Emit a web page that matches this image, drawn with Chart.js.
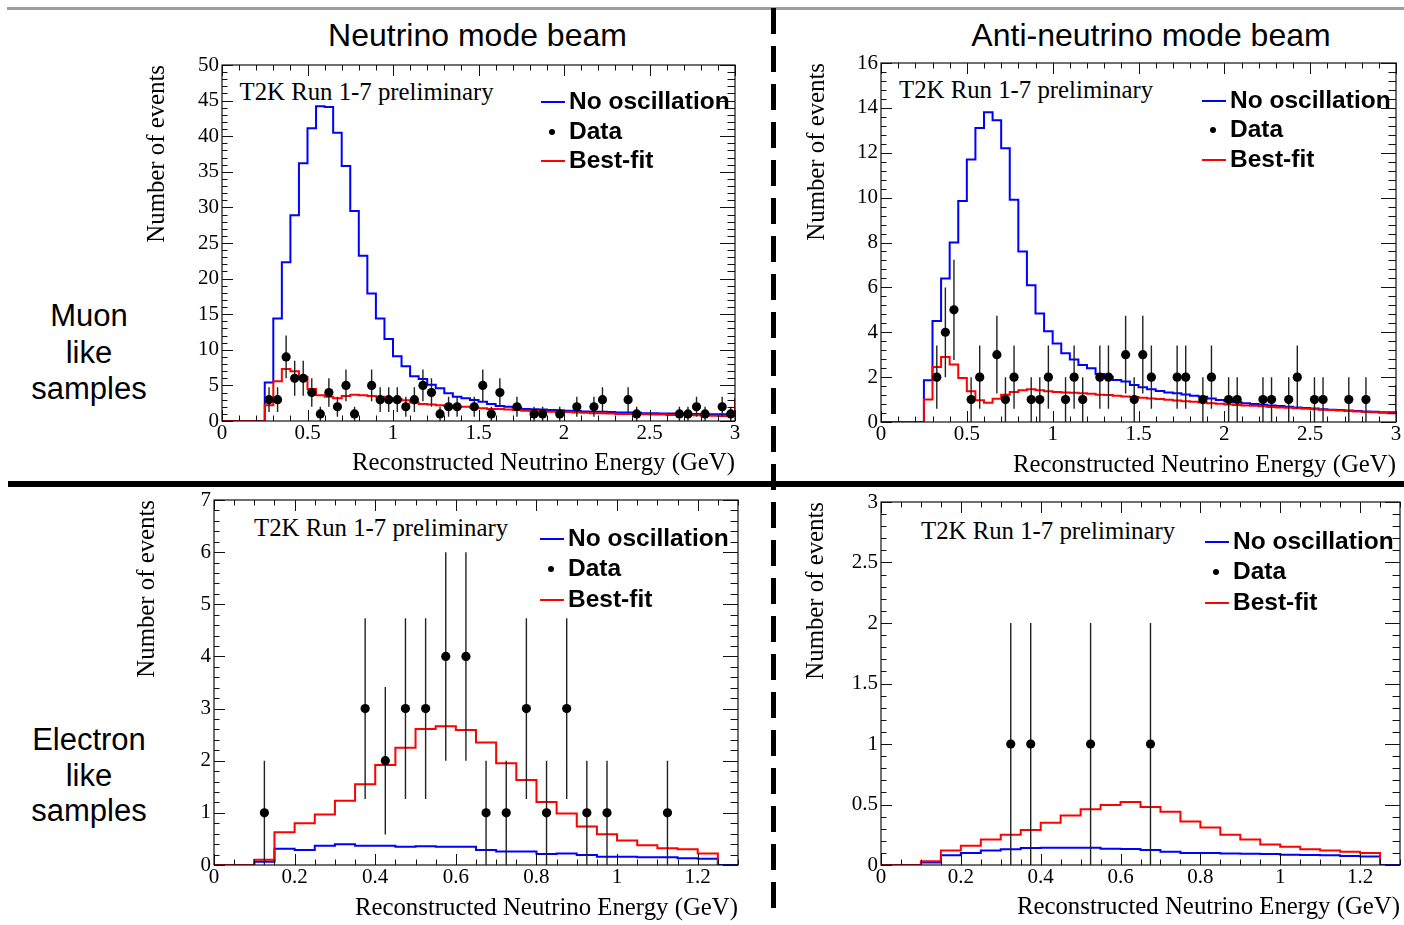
<!DOCTYPE html>
<html><head><meta charset="utf-8">
<script src="https://cdn.jsdelivr.net/npm/chart.js@4.4.0/dist/chart.umd.min.js"></script>
<style>
html,body{margin:0;padding:0;background:#fff;width:1404px;height:925px;overflow:hidden;position:relative;}
canvas{position:absolute;}
.t{position:absolute;white-space:nowrap;line-height:1;transform:translateY(-50%);color:#000;}
.sans{font-family:"Liberation Sans",Arial,sans-serif;}
.serif{font-family:"Liberation Serif","Times New Roman",serif;}
.ptitle{font-size:32px;transform:translate(-50%,-50%);}
.side{position:absolute;left:0;width:178px;text-align:center;font-size:31px;color:#000;}
.run{font-size:24.8px;}
.leg{font-size:24.5px;font-weight:bold;}
.key{position:absolute;}
</style></head><body>
<div style="position:absolute;left:7px;top:7px;width:1397px;height:2.5px;background:#9c9c9c;"></div>
<div style="position:absolute;left:8px;top:481px;width:1396px;height:6px;background:#000;"></div>
<div style="position:absolute;left:771px;top:8px;width:5px;height:908px;background:repeating-linear-gradient(to bottom,#000 0px,#000 26px,transparent 26px,transparent 38px);"></div>

<div class="t sans ptitle" style="left:477.5px;top:35px;">Neutrino mode beam</div>
<div class="t sans ptitle" style="left:1151px;top:35px;">Anti-neutrino mode beam</div>
<div class="side sans" style="top:298px;line-height:36.5px;">Muon<br>like<br>samples</div>
<div class="side sans" style="top:722px;line-height:35.5px;">Electron<br>like<br>samples</div>

<div class="t serif run" style="left:239.5px;top:92px;">T2K Run 1-7 preliminary</div>
<div class="t serif run" style="left:899px;top:90px;">T2K Run 1-7 preliminary</div>
<div class="t serif run" style="left:254px;top:528px;">T2K Run 1-7 preliminary</div>
<div class="t serif run" style="left:921px;top:531px;">T2K Run 1-7 preliminary</div>

<script>
// ---------------- DATA ----------------
const muEdges = [0,0.05,0.1,0.15,0.2,0.25,0.3,0.35,0.4,0.45,0.5,0.55,0.6,0.65,0.7,0.75,0.8,0.85,0.9,0.95,1,1.05,1.1,1.15,1.2,1.25,1.3,1.35,1.4,1.45,1.5,1.55,1.6,1.65,1.7,1.75,1.8,1.85,1.9,1.95,2,2.05,2.1,2.15,2.2,2.25,2.3,2.35,2.4,2.45,2.5,2.55,2.6,2.65,2.7,2.75,2.8,2.85,2.9,2.95,3];
const eEdges = [0,0.05,0.1,0.15,0.2,0.25,0.3,0.35,0.4,0.45,0.5,0.55,0.6,0.65,0.7,0.75,0.8,0.85,0.9,0.95,1,1.05,1.1,1.15,1.2,1.25,1.3];

// Neutrino mode, muon-like
const numuNoOsc = [0,0,0,0,0, 5.4,14.4,22.3,28.9,36.2, 41.1,44.2,44.1,40.5,35.8, 29.5,23.2,17.9,14.4,11.5, 9.1,7.7,6.3,5.9,5.1, 4.6,3.9,3.4,3.2,2.95, 2.7,2.4,2.1,2.0,1.9, 1.7,1.65,1.6,1.55,1.5, 1.45,1.4,1.35,1.3,1.3, 1.25,1.2,1.2,1.15,1.1, 1.1,1.05,1.05,1.0,1.0, 1.0,0.95,0.95,0.95,0.9];
const numuBestFit = [0,0,0,0,0, 2.2,5.6,7.3,7.0,6.2, 4.5,3.6,3.4,3.2,3.5, 3.7,3.6,3.5,3.4,3.2, 3.1,2.9,2.6,2.4,2.3, 2.2,2.1,2.0,2.0,1.9, 1.8,1.7,1.7,1.6,1.55, 1.45,1.4,1.35,1.3,1.3, 1.25,1.2,1.15,1.1,1.1, 1.05,1.0,1.0,0.95,0.95, 0.9,0.9,0.85,0.85,0.8, 0.8,0.75,0.75,0.7,0.7];
const numuBestFitOverflow = 3.2;
const numuDataE = [0.275,0.325,0.375,0.425,0.475,0.525,0.575,0.625,0.675,0.725,0.775,0.875,0.925,0.975,1.025,1.075,1.125,1.175,1.225,1.275,1.325,1.375,1.475,1.525,1.575,1.625,1.725,1.825,1.875,1.975,2.075,2.175,2.225,2.375,2.425,2.675,2.725,2.775,2.825,2.925,2.975];
const numuDataN = [3,3,9,6,6,4,1,4,2,5,1,5,3,3,3,2,3,5,4,1,2,2,2,5,1,4,2,1,1,1,2,2,3,3,1,1,1,2,1,2,1];

// Anti-neutrino mode, muon-like
const numubarNoOsc = [0,0,0,0,0, 1.86,4.5,6.4,8.0,9.85, 11.7,13.1,13.8,13.45,12.2, 9.9,7.6,6.1,4.84,4.05, 3.5,3.06,2.79,2.54,2.39, 2.14,2.02,1.87,1.8,1.65, 1.55,1.46,1.38,1.31,1.28, 1.23,1.17,1.13,1.05,0.98, 0.93,0.88,0.84,0.8,0.77, 0.74,0.71,0.68,0.65,0.62, 0.6,0.57,0.55,0.53,0.51, 0.49,0.47,0.46,0.44,0.43];
const numubarBestFit = [0,0,0,0,0, 1.0,2.45,2.9,2.56,1.96, 1.37,0.97,0.86,1.04,1.22, 1.34,1.41,1.46,1.41,1.37, 1.34,1.32,1.30,1.28,1.26, 1.22,1.2,1.17,1.14,1.11, 1.08,1.05,1.02,0.99,0.96, 0.93,0.9,0.87,0.84,0.81, 0.78,0.76,0.74,0.72,0.70, 0.67,0.65,0.63,0.61,0.59, 0.57,0.55,0.53,0.51,0.49, 0.47,0.45,0.43,0.41,0.39];
const numubarBestFitOverflow = 1.65;
const numubarDataE = [0.325,0.375,0.425,0.525,0.575,0.675,0.725,0.775,0.875,0.925,0.975,1.075,1.125,1.175,1.275,1.325,1.425,1.475,1.525,1.575,1.725,1.775,1.875,1.925,2.025,2.075,2.225,2.275,2.375,2.425,2.525,2.575,2.725,2.825];
const numubarDataN = [2,4,5,1,2,3,1,2,1,1,2,1,2,1,2,2,3,1,3,2,2,2,1,2,1,1,1,1,1,2,1,1,1,1];

// Neutrino mode, electron-like
const nueNoOsc = [0,0,0.06,0.31,0.29, 0.37,0.40,0.37,0.37,0.35, 0.36,0.35,0.35,0.29,0.26, 0.26,0.21,0.22,0.19,0.16, 0.16,0.15,0.15,0.13,0.12, 0];
const nueBestFit = [0,0,0.1,0.63,0.8, 0.97,1.23,1.55,1.92,2.25, 2.61,2.66,2.59,2.35,1.95, 1.63,1.21,0.99,0.74,0.59, 0.47,0.38,0.32,0.30,0.22];
const nueDataE = [0.125,0.375,0.425,0.475,0.525,0.575,0.625,0.675,0.725,0.775,0.825,0.875,0.925,0.975,1.125];
const nueDataN = [1,3,2,3,3,4,4,1,1,3,1,3,1,1,1];

// Anti-neutrino mode, electron-like
const nuebarNoOsc = [0,0,0.02,0.08,0.10, 0.12,0.13,0.14,0.143,0.143, 0.143,0.135,0.133,0.125,0.11, 0.10,0.10,0.095,0.093,0.09, 0.085,0.083,0.08,0.075,0.07, 0];
const nuebarBestFit = [0,0,0.03,0.12,0.16, 0.21,0.25,0.29,0.35,0.41, 0.46,0.495,0.52,0.48,0.44, 0.36,0.31,0.25,0.21,0.17, 0.15,0.13,0.12,0.11,0.10];
const nuebarDataE = [0.325,0.375,0.525,0.675];
const nuebarDataN = [1,1,1,1];

// Tick labels
const muXTicks = [0,0.5,1,1.5,2,2.5,3];
const eXTicks = [0,0.2,0.4,0.6,0.8,1,1.2];
const numuYTicks = [0,5,10,15,20,25,30,35,40,45,50];
const numubarYTicks = [0,2,4,6,8,10,12,14,16];
const nueYTicks = [0,1,2,3,4,5,6,7];
const nuebarYTicks = [0,0.5,1,1.5,2,2.5,3];

const legendLabels = ['No oscillation','Data','Best-fit'];
const xTitle = 'Reconstructed Neutrino Energy (GeV)';
const yTitle = 'Number of events';

// ---------------- DRAWING ----------------
const SERIF = '"Liberation Serif","Times New Roman",serif';
const BLUE = '#0000ff', RED = '#ff0000';

function stepPoints(edges, values, endValue) {
  const pts = [];
  for (let i = 0; i < values.length; i++) {
    pts.push({x: edges[i], y: values[i]});
    pts.push({x: edges[i + 1], y: values[i]});
  }
  if (endValue !== undefined) pts.push({x: edges[values.length], y: endValue});
  return pts;
}
function fmt(v) { return String(Number(Number(v).toFixed(3))); }

const rootFrame = {
  id: 'rootFrame',
  afterDatasetsDraw(chart, args, opts) {
    const {ctx, chartArea: a, scales: {x, y}} = chart;
    ctx.save();
    ctx.strokeStyle = '#111';
    ctx.lineWidth = 1;
    ctx.beginPath();
    const isMajor = (list, v) => list.some(t => Math.abs(t - v) < 1e-6);
    const nx = Math.round(x.max / opts.xMinor);
    for (let i = 0; i <= nx; i++) {
      const v = i * opts.xMinor;
      const px = Math.round(x.getPixelForValue(v)) + 0.5;
      const len = isMajor(opts.xMajor, v) ? 11 : 5.5;
      ctx.moveTo(px, a.bottom); ctx.lineTo(px, a.bottom - len);
      ctx.moveTo(px, a.top); ctx.lineTo(px, a.top + len);
    }
    const ny = Math.round(y.max / opts.yMinor);
    for (let i = 0; i <= ny; i++) {
      const v = i * opts.yMinor;
      const py = Math.round(y.getPixelForValue(v)) + 0.5;
      const maj = isMajor(opts.yMajor, v);
      ctx.moveTo(a.left, py); ctx.lineTo(a.left + (maj ? 11 : 5.5), py);
      ctx.moveTo(a.right, py); ctx.lineTo(a.right - (maj ? 15 : 7.5), py);
    }
    ctx.stroke();
    ctx.lineWidth = 1.2;
    ctx.strokeRect(a.left, a.top, a.right - a.left, a.bottom - a.top);
    ctx.restore();
  }
};

const errorBars = {
  id: 'errorBars',
  beforeDatasetDraw(chart, args) {
    if (args.index !== 0) return;
    const {ctx, chartArea: a, scales: {x, y}} = chart;
    ctx.save();
    ctx.beginPath();
    ctx.rect(a.left, a.top, a.right - a.left, a.bottom - a.top);
    ctx.clip();
    ctx.strokeStyle = '#222';
    ctx.lineWidth = 1.4;
    ctx.beginPath();
    chart.data.datasets[0].data.forEach(p => {
      const e = Math.sqrt(p.y);
      const px = x.getPixelForValue(p.x);
      ctx.moveTo(px, y.getPixelForValue(p.y - e));
      ctx.lineTo(px, y.getPixelForValue(p.y + e));
    });
    ctx.stroke();
    ctx.restore();
  }
};

function makePanel(c) {
  const TICK = 21, TITLE = 24.8;
  const titleLH = TITLE * 1.2;
  const padTop = 22, padRight = 14;
  const canvasLeft = Math.round(c.yTitleCX - titleLH / 2);
  const yAxisW = c.L - canvasLeft;
  const xAxisH = Math.round(c.xTitleCY - c.B + titleLH / 2);
  const W = yAxisW + (c.R - c.L) + padRight;
  const H = padTop + (c.B - c.T) + xAxisH;
  const cv = document.createElement('canvas');
  cv.width = W; cv.height = H;
  cv.style.left = canvasLeft + 'px';
  cv.style.top = (c.T - padTop) + 'px';
  cv.style.width = W + 'px'; cv.style.height = H + 'px';
  document.body.appendChild(cv);

  const dataPts = c.dataE.map((e, i) => ({x: e, y: c.dataN[i]}));
  new Chart(cv.getContext('2d'), {
    type: 'line',
    data: {
      datasets: [
        {type: 'scatter', label: legendLabels[1], data: dataPts, pointRadius: 4.6, pointHoverRadius: 4.6,
         pointBackgroundColor: '#000', pointBorderWidth: 0, showLine: false},
        {label: legendLabels[2], data: stepPoints(c.edges, c.best, c.bestEnd), borderColor: RED,
         borderWidth: 2, pointRadius: 0, tension: 0, fill: false},
        {label: legendLabels[0], data: stepPoints(c.edges, c.noOsc), borderColor: BLUE,
         borderWidth: 2, pointRadius: 0, tension: 0, fill: false}
      ]
    },
    options: {
      responsive: false, maintainAspectRatio: false, animation: false, devicePixelRatio: 1,
      events: [],
      layout: {padding: {left: 0, top: padTop, right: padRight, bottom: 0}},
      plugins: {
        legend: {display: false}, tooltip: {enabled: false},
        rootFrame: {xMinor: c.xMinor, yMinor: c.yMinor, xMajor: c.xTicks, yMajor: c.yTicks}
      },
      scales: {
        x: {
          type: 'linear', min: 0, max: c.xMax,
          afterBuildTicks: s => { s.ticks = c.xTicks.map(v => ({value: v})); },
          afterFit: s => { s.height = xAxisH; },
          grid: {display: false, drawTicks: false}, border: {display: false},
          ticks: {autoSkip: false, maxRotation: 0, minRotation: 0, padding: 2, color: '#000',
                  font: {family: SERIF, size: TICK, lineHeight: 1}, callback: v => fmt(v)},
          title: {display: true, text: xTitle, align: 'end', color: '#000', padding: 0,
                  font: {family: SERIF, size: TITLE, lineHeight: 1.2}}
        },
        y: {
          type: 'linear', min: 0, max: c.yMax,
          afterBuildTicks: s => { s.ticks = c.yTicks.map(v => ({value: v})); },
          afterFit: s => { s.width = yAxisW; },
          grid: {display: false, drawTicks: false}, border: {display: false},
          ticks: {autoSkip: false, padding: 3, color: '#000',
                  font: {family: SERIF, size: TICK, lineHeight: 1}, callback: v => fmt(v)},
          title: {display: true, text: yTitle, align: 'end', color: '#000', padding: 0,
                  font: {family: SERIF, size: TITLE, lineHeight: 1.2}}
        }
      }
    },
    plugins: [rootFrame, errorBars]
  });

  // legend (HTML)
  const g = c.legend;
  const rows = [g.y, g.y + g.dy, g.y + 2 * g.dy];
  const add = (html) => { const d = document.createElement('div'); d.innerHTML = html; document.body.appendChild(d.firstChild); };
  add(`<div class="key" style="left:${g.x}px;top:${rows[0]}px;width:24px;height:2px;background:${BLUE};"></div>`);
  add(`<div class="key" style="left:${g.x + 8}px;top:${rows[1] - 2}px;width:6px;height:6px;border-radius:50%;background:#000;"></div>`);
  add(`<div class="key" style="left:${g.x}px;top:${rows[2]}px;width:24px;height:2px;background:${RED};"></div>`);
  legendLabels.forEach((lab, i) => {
    add(`<div class="t sans leg" style="left:${g.x + 28}px;top:${rows[i]}px;">${lab}</div>`);
  });
}

makePanel({L: 222, T: 65, R: 735, B: 421, yTitleCX: 158, xTitleCY: 463, xMax: 3, yMax: 50,
  xMinor: 0.1, yMinor: 1, xTicks: muXTicks, yTicks: numuYTicks, edges: muEdges,
  noOsc: numuNoOsc, best: numuBestFit, bestEnd: numuBestFitOverflow, dataE: numuDataE, dataN: numuDataN,
  legend: {x: 541, y: 101, dy: 29.7}});
makePanel({L: 881, T: 63, R: 1396, B: 422, yTitleCX: 818, xTitleCY: 465, xMax: 3, yMax: 16,
  xMinor: 0.1, yMinor: 0.4, xTicks: muXTicks, yTicks: numubarYTicks, edges: muEdges,
  noOsc: numubarNoOsc, best: numubarBestFit, bestEnd: numubarBestFitOverflow, dataE: numubarDataE, dataN: numubarDataN,
  legend: {x: 1202, y: 99.5, dy: 29.5}});
makePanel({L: 214, T: 500, R: 738, B: 865, yTitleCX: 148, xTitleCY: 908, xMax: 1.3, yMax: 7,
  xMinor: 0.05, yMinor: 0.2, xTicks: eXTicks, yTicks: nueYTicks, edges: eEdges,
  noOsc: nueNoOsc, best: nueBestFit, bestEnd: 0, dataE: nueDataE, dataN: nueDataN,
  legend: {x: 540, y: 537.5, dy: 30.5}});
makePanel({L: 881, T: 502, R: 1400, B: 865, yTitleCX: 817, xTitleCY: 907, xMax: 1.3, yMax: 3,
  xMinor: 0.05, yMinor: 0.1, xTicks: eXTicks, yTicks: nuebarYTicks, edges: eEdges,
  noOsc: nuebarNoOsc, best: nuebarBestFit, bestEnd: 0, dataE: nuebarDataE, dataN: nuebarDataN,
  legend: {x: 1205, y: 540.5, dy: 30.5}});
</script>
</body></html>
